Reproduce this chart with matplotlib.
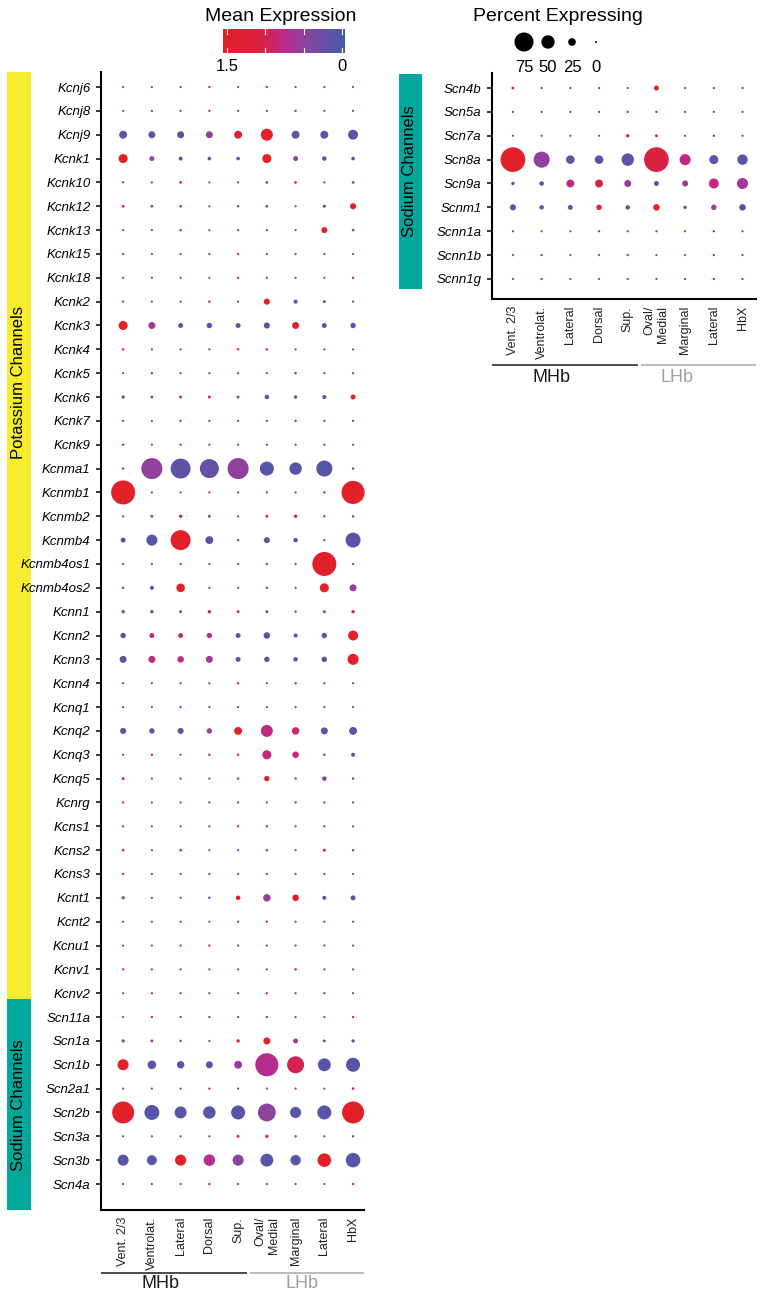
import numpy as np
import matplotlib
matplotlib.use("Agg")
from matplotlib import pyplot as plt
from matplotlib.colors import LinearSegmentedColormap
from matplotlib.patches import Rectangle
import matplotlib.transforms as mtransforms

plt.rcParams['font.family'] = ['Liberation Sans', 'DejaVu Sans']

# ---- data -------------------------------------------------------------
clusters = ["Vent. 2/3", "Ventrolat.", "Lateral", "Dorsal", "Sup.",
            "Oval/\nMedial", "Marginal", "Lateral", "HbX"]
groups = ["MHb", "LHb"]

k_genes = ["Kcnj6", "Kcnj8", "Kcnj9", "Kcnk1", "Kcnk10", "Kcnk12", "Kcnk13",
           "Kcnk15", "Kcnk18", "Kcnk2", "Kcnk3", "Kcnk4", "Kcnk5", "Kcnk6",
           "Kcnk7", "Kcnk9", "Kcnma1", "Kcnmb1", "Kcnmb2", "Kcnmb4",
           "Kcnmb4os1", "Kcnmb4os2", "Kcnn1", "Kcnn2", "Kcnn3", "Kcnn4",
           "Kcnq1", "Kcnq2", "Kcnq3", "Kcnq5", "Kcnrg", "Kcns1", "Kcns2",
           "Kcns3", "Kcnt1", "Kcnt2", "Kcnu1", "Kcnv1", "Kcnv2"]
na_genes_left = ["Scn11a", "Scn1a", "Scn1b", "Scn2a1", "Scn2b", "Scn3a",
                 "Scn3b", "Scn4a"]
na_genes_right = ["Scn4b", "Scn5a", "Scn7a", "Scn8a", "Scn9a", "Scnm1",
                  "Scnn1a", "Scnn1b", "Scnn1g"]

# percent expressing (left panel, same order as k_genes + na_genes_left)
pct_left = [
    [1, 1, 1, 1.5, 1, 1.5, 1, 1, 1],
    [1, 1, 1, 1, 1, 1, 1.3, 1, 1],
    [26, 22, 22, 22, 26, 44, 26, 26, 35],
    [31, 13, 9, 7, 7, 31, 13, 11, 7],
    [1, 1, 3, 1, 1, 3, 3, 1, 3],
    [3, 3, 3, 1, 2, 3, 1, 5, 18],
    [1, 1, 2, 1, 1, 1, 1, 18, 3],
    [1, 1, 1, 1, 1.5, 1, 1, 1, 1],
    [1, 1, 1, 1, 1.5, 1, 1, 1, 1.5],
    [1, 1, 1, 2, 1, 18, 9, 4, 1],
    [31, 22, 13, 15, 13, 18, 22, 13, 15],
    [2, 1, 1, 1, 2, 2, 1, 1, 1],
    [1, 2, 1, 1, 1, 1, 2, 1, 1.5],
    [6, 4, 4, 4, 4, 11, 6, 9, 13],
    [1, 1, 1.5, 1, 1, 1, 1.5, 1, 1],
    [1.5, 1, 1.5, 1, 1, 1, 1, 1, 1],
    [2, 84, 79, 75, 84, 53, 46, 62, 2],
    [97, 1, 1, 1, 1, 1, 1, 2, 93],
    [1, 4, 6, 4, 1, 4, 6, 2, 2],
    [13, 40, 79, 26, 2, 18, 11, 1, 57],
    [1, 1, 1, 1, 1, 1.5, 1, 97, 1],
    [2, 9, 29, 1, 1, 2, 1, 31, 22],
    [6, 6, 4, 6, 4, 4, 2, 4, 6],
    [15, 13, 13, 15, 13, 20, 9, 15, 35],
    [22, 22, 20, 22, 13, 15, 11, 15, 40],
    [1, 1, 1, 1, 1.5, 1, 1.5, 1, 1],
    [1, 1, 1.3, 1, 1, 0.8, 0.8, 0.8, 0.8],
    [18, 15, 18, 15, 26, 44, 24, 22, 26],
    [1, 2, 1, 2, 2, 31, 20, 2, 9],
    [4, 1, 1, 1, 2, 15, 2, 11, 2],
    [1.3, 1, 1, 1, 1, 1, 1.3, 1, 1],
    [1, 1, 1, 1, 1.5, 1.5, 1, 1, 1],
    [3, 1, 3, 1, 1, 2, 1, 4, 2],
    [1.5, 1, 1, 1, 1, 1.5, 1, 1.5, 1],
    [6, 1, 1, 2, 11, 24, 20, 9, 13],
    [1, 1, 1, 1, 1, 1.3, 1, 1, 1],
    [1, 1, 1.3, 1.3, 1, 1.3, 1, 1.3, 1],
    [1.3, 1, 1, 1, 1, 1, 2, 1, 1],
    [1, 1.3, 1.3, 1, 1, 1.3, 1, 1.3, 1],
    [1, 1.3, 1, 1, 1, 1.3, 1, 1, 1.3],
    [6, 4, 2, 1, 6, 22, 13, 4, 6],
    [40, 29, 24, 22, 26, 93, 66, 48, 53],
    [1, 1, 1, 1.3, 1, 1, 1.3, 1, 3],
    [88, 57, 44, 46, 53, 70, 40, 53, 88],
    [1, 1, 1, 1, 4, 6, 2, 1, 2],
    [40, 35, 40, 42, 40, 48, 37, 51, 55],
    [1, 1, 1, 1.3, 1, 1, 1, 1, 1.3],
]

# mean expression (left panel)
expr_left = [
    [0.1, 0.1, 0.1, 1.4, 0.1, 1.4, 0.1, 0.1, 0.1],
    [0.1, 1.3, 0.1, 1.2, 0.1, 0.1, 1.4, 0.1, 0.1],
    [0.1, 0.1, 0.1, 0.5, 1.45, 1.5, 0.1, 0.1, 0.1],
    [1.5, 0.5, 0.1, 0.1, 0.1, 1.5, 0.5, 0.1, 0.1],
    [0.1, 0.1, 1.4, 0.4, 0.1, 0.1, 1.4, 0.1, 0.1],
    [1.1, 0.8, 0.65, 0.1, 0.1, 0.1, 0.1, 0.1, 1.45],
    [0.1, 0.1, 1.4, 0.1, 0.1, 0.1, 0.1, 1.5, 0.1],
    [0.1, 0.1, 0.1, 0.1, 1.4, 0.1, 0.1, 0.1, 0.1],
    [0.2, 0.8, 0.1, 0.1, 1.4, 0.1, 0.1, 0.6, 1.3],
    [0.1, 0.1, 0.1, 1.4, 0.1, 1.5, 0.1, 0.1, 0.1],
    [1.5, 0.65, 0.1, 0.1, 0.1, 0.1, 1.45, 0.1, 0.1],
    [1.2, 0.1, 0.1, 0.1, 1.4, 1.4, 0.1, 0.1, 0.1],
    [0.1, 1.4, 0.1, 0.1, 0.1, 0.1, 1.4, 0.1, 0.6],
    [0.1, 0.1, 0.8, 1.05, 0.6, 0.1, 0.1, 0.1, 1.45],
    [0.1, 0.1, 1.4, 0.1, 0.1, 0.1, 1.4, 0.1, 0.1],
    [1.4, 0.1, 1.4, 0.1, 0.1, 0.1, 0.1, 0.1, 0.2],
    [0.1, 0.5, 0.15, 0.2, 0.5, 0.1, 0.1, 0.1, 0.1],
    [1.5, 0.1, 0.1, 1.3, 0.1, 0.1, 0.1, 1.4, 1.5],
    [0.1, 0.3, 1.4, 0.1, 0.1, 0.8, 1.3, 0.1, 0.1],
    [0.1, 0.1, 1.5, 0.1, 0.1, 0.1, 0.1, 0.1, 0.1],
    [0.1, 0.1, 1.4, 0.1, 0.1, 1.4, 0.1, 1.5, 0.1],
    [0.1, 0.1, 1.5, 0.1, 0.1, 0.1, 0.1, 1.5, 0.55],
    [0.1, 0.1, 0.1, 1.4, 0.8, 0.1, 0.1, 0.8, 0.95],
    [0.1, 0.8, 0.8, 0.7, 0.1, 0.1, 0.1, 0.3, 1.5],
    [0.1, 0.8, 0.8, 0.62, 0.1, 0.1, 0.1, 0.1, 1.5],
    [0.1, 0.3, 0.1, 0.1, 1.4, 0.1, 1.4, 0.1, 0.1],
    [0.8, 0.1, 1.4, 0.1, 0.1, 0.2, 0.2, 0.2, 0.2],
    [0.1, 0.1, 0.1, 0.55, 1.5, 0.8, 0.85, 0.1, 0.1],
    [0.1, 1.3, 0.1, 0.8, 0.95, 0.8, 0.82, 0.1, 0.1],
    [1.2, 0.1, 0.1, 0.2, 0.8, 1.45, 0.1, 0.5, 0.1],
    [1.4, 0.1, 0.1, 0.1, 0.1, 0.1, 1.4, 0.1, 0.1],
    [0.1, 0.1, 0.1, 0.1, 1.4, 1.4, 0.1, 0.1, 0.1],
    [0.85, 0.1, 1.4, 0.1, 0.1, 0.1, 0.1, 1.45, 0.1],
    [1.4, 0.1, 0.1, 0.1, 0.1, 0.8, 0.1, 0.8, 0.1],
    [0.55, 0.1, 0.1, 0.1, 1.45, 0.55, 1.45, 0.1, 0.1],
    [0.1, 0.1, 1.4, 0.6, 0.1, 1.4, 0.1, 0.1, 0.1],
    [0.1, 0.1, 1.4, 1.05, 0.1, 0.6, 0.1, 1.4, 0.1],
    [1.4, 0.95, 0.1, 0.6, 0.1, 0.1, 1.4, 0.1, 0.1],
    [0.1, 1.4, 1.3, 0.1, 0.1, 1.3, 0.1, 1.3, 0.1],
    [0.6, 1.4, 0.1, 0.1, 0.1, 0.8, 0.1, 0.1, 1.3],
    [0.55, 0.5, 0.1, 0.1, 1.45, 1.5, 0.6, 0.1, 0.1],
    [1.5, 0.1, 0.1, 0.1, 0.55, 0.72, 1.0, 0.1, 0.1],
    [0.1, 0.1, 0.1, 1.4, 0.1, 0.1, 0.6, 0.2, 1.4],
    [1.5, 0.1, 0.1, 0.1, 0.1, 0.48, 0.1, 0.1, 1.5],
    [0.1, 0.1, 0.1, 0.1, 1.4, 1.4, 0.6, 0.2, 0.1],
    [0.1, 0.1, 1.5, 0.7, 0.45, 0.1, 0.1, 1.5, 0.1],
    [0.1, 0.1, 0.1, 1.4, 0.1, 0.1, 0.1, 0.1, 1.4],
]

pct_right = [
    [4, 1, 1, 1, 1, 13, 1, 1, 1],
    [1, 1, 1, 1, 1.5, 1.5, 1, 1, 1],
    [1, 1, 1, 1, 6, 4, 1, 2, 1],
    [100, 62, 29, 29, 46, 100, 40, 31, 37],
    [6, 11, 26, 26, 22, 13, 18, 35, 40],
    [18, 11, 13, 15, 11, 20, 6, 15, 20],
    [1, 1, 1, 1.3, 1, 1, 1, 1.3, 1],
    [1, 1.3, 1, 1, 1.3, 1, 1, 1.3, 1],
    [1, 1.3, 1, 1, 1, 1, 1, 1.3, 1],
]
expr_right = [
    [1.4, 0.1, 0.1, 0.1, 0.1, 1.45, 0.1, 0.1, 0.1],
    [0.1, 0.1, 0.1, 0.1, 1.4, 1.4, 0.1, 0.1, 0.1],
    [0.1, 0.1, 0.1, 0.1, 1.45, 1.4, 0.1, 0.1, 0.1],
    [1.5, 0.5, 0.1, 0.1, 0.1, 1.1, 0.8, 0.1, 0.1],
    [0.1, 0.1, 0.8, 1.05, 0.55, 0.1, 0.55, 0.82, 0.62],
    [0.1, 0.1, 0.25, 1.45, 0.1, 1.45, 0.1, 0.55, 0.1],
    [0.1, 0.1, 0.1, 1.4, 0.1, 0.1, 0.1, 1.4, 0.1],
    [0.1, 1.4, 0.1, 0.1, 1.4, 0.1, 0.1, 1.4, 0.1],
    [0.1, 1.4, 0.1, 0.1, 0.1, 0.1, 0.1, 1.4, 0.1],
]

size_legend = [75, 50, 25, 0]
expr_ticks = [1.5, 0]

# ---- layout helpers ---------------------------------------------------
W, H = 767, 1293
fig = plt.figure(figsize=(W / 100, H / 100), dpi=100)


def px_box(x0, y0, x1, y1):
    return [x0 / W, 1 - y1 / H, (x1 - x0) / W, (y1 - y0) / H]


def dot_size(pct):
    d = 2 + 0.227 * np.asarray(pct, dtype=float)   # diameter in px
    return (d * 0.72) ** 2


cmap = LinearSegmentedColormap.from_list(
    "expr", [(0, "#4b58a9"), (0.3, "#8646a0"), (0.5, "#bd2a8d"),
             (0.72, "#d8223f"), (1, "#e2202a")])

YELLOW = "#f7eb2d"
TEAL = "#00a89c"


def dot_panel(ax, genes, pct, expr, xlim, ylim):
    pct = np.array(pct)
    expr = np.array(expr)
    xx, yy = np.meshgrid(np.arange(len(clusters)), np.arange(len(genes)))
    ax.scatter(xx.ravel(), yy.ravel(), s=dot_size(pct.ravel()),
               c=expr.ravel(), cmap=cmap, vmin=0, vmax=1.5,
               linewidths=0, clip_on=False)
    ax.set_xlim(xlim)
    ax.set_ylim(ylim)
    ax.set_yticks(range(len(genes)))
    ax.set_yticklabels(genes, fontstyle="italic", fontsize=9.5)
    ax.set_xticks(range(len(clusters)))
    ax.set_xticklabels(clusters, rotation=90, fontsize=9, ha="center",
                       va="top", multialignment="right", color="#222222")
    for s in ["top", "right"]:
        ax.spines[s].set_visible(False)
    for s in ["left", "bottom"]:
        ax.spines[s].set_linewidth(1.5)
    ax.tick_params(axis="y", length=3.6, width=1.1, pad=4)
    ax.tick_params(axis="x", length=0, pad=5)
    ax.patch.set_alpha(0)


def group_bar(ax, y_line, y_text, mhb_end, lhb_start, text_x):
    tr = mtransforms.blended_transform_factory(ax.transData, fig.transFigure)
    xl = ax.get_xlim()
    ax.plot([xl[0], mhb_end], [1 - y_line / H] * 2, color="#1a1a1a",
            lw=1.1, transform=tr, clip_on=False, solid_capstyle="butt")
    ax.plot([lhb_start, xl[1]], [1 - y_line / H] * 2, color="#a8a8a8",
            lw=1.1, transform=tr, clip_on=False, solid_capstyle="butt")
    ax.text(text_x[0], 1 - y_text / H, groups[0], transform=tr, fontsize=13,
            ha="center", va="center", color="#1a1a1a")
    ax.text(text_x[1], 1 - y_text / H, groups[1], transform=tr, fontsize=13,
            ha="center", va="center", color="#a0a0a0")


# ---- left panel -------------------------------------------------------
ax1 = fig.add_axes(px_box(101, 72, 364, 1210))
left_genes = k_genes + na_genes_left
dot_panel(ax1, left_genes, pct_left, expr_left, (-0.77, 8.38), (47.09, -0.63))
group_bar(ax1, 1273, 1284, 4.3, 4.4, (1.29, 6.24))

# family bars on the left (kept behind the tick labels)
split = len(k_genes) - 0.76
tr1 = mtransforms.blended_transform_factory(fig.transFigure, ax1.transData)
fig.add_artist(Rectangle((7 / W, -0.63), 24 / W, split + 0.63,
                         transform=tr1, color=YELLOW, lw=0, zorder=-5))
fig.add_artist(Rectangle((7 / W, split), 24 / W, 47.09 - split,
                         transform=tr1, color=TEAL, lw=0, zorder=-5))
fig.text(19 / W, 1 - 383 / H, "Potassium Channels", rotation=90,
         fontsize=12, ha="center", va="center")
fig.text(19 / W, 1 - 1105 / H, "Sodium Channels", rotation=90,
         fontsize=12, ha="center", va="center")

# ---- right panel ------------------------------------------------------
ax2 = fig.add_axes(px_box(492, 73, 756, 299))
dot_panel(ax2, na_genes_right, pct_right, expr_right, (-0.73, 8.47),
          (8.84, -0.63))
group_bar(ax2, 365, 377, 4.36, 4.46, (1.36, 5.7))

fig.add_artist(Rectangle((399 / W, 1 - 289 / H), 23 / W, 215 / H,
                         transform=fig.transFigure, color=TEAL, lw=0,
                         zorder=-5))
fig.text(410 / W, 1 - 171 / H, "Sodium Channels", rotation=90,
         fontsize=12, ha="center", va="center")

# ---- colour legend ----------------------------------------------------
cax = fig.add_axes(px_box(223, 29, 345, 53))
grad = np.linspace(-0.04, 1.552, 256).reshape(1, -1)
cax.imshow(grad, extent=[-0.04, 1.552, 0, 1], aspect="auto", cmap=cmap,
           vmin=0, vmax=1.5)
cax.set_xlim(1.552, -0.04)
cax.set_ylim(0, 1)
for v in [0, 0.5, 1.0, 1.5]:
    cax.plot([v, v], [0, 0.2], color="white", lw=0.8)
    cax.plot([v, v], [0.8, 1], color="white", lw=0.8)
cax.set_xticks(expr_ticks)
cax.set_xticklabels([str(t) for t in expr_ticks], fontsize=12)
cax.set_yticks([])
cax.tick_params(axis="x", length=0, pad=4)
for s in cax.spines.values():
    s.set_visible(False)
fig.text(281 / W, 1 - 21 / H, "Mean Expression", fontsize=14,
         ha="center", va="baseline")

# ---- size legend ------------------------------------------------------
sax = fig.add_axes(px_box(512, 30, 608, 54))
sax.scatter(range(len(size_legend)), [0] * len(size_legend),
            s=dot_size(size_legend), color="black", linewidths=0)
sax.set_xlim(-0.5, len(size_legend) - 0.5)
sax.set_ylim(-1, 1)
sax.set_xticks(range(len(size_legend)))
sax.set_xticklabels([str(v) for v in size_legend], fontsize=12)
sax.set_yticks([])
sax.tick_params(axis="x", length=0, pad=4)
for s in sax.spines.values():
    s.set_visible(False)
sax.patch.set_alpha(0)
fig.text(558 / W, 1 - 21 / H, "Percent Expressing", fontsize=14,
         ha="center", va="baseline")

fig.savefig("out.png", dpi=100)
